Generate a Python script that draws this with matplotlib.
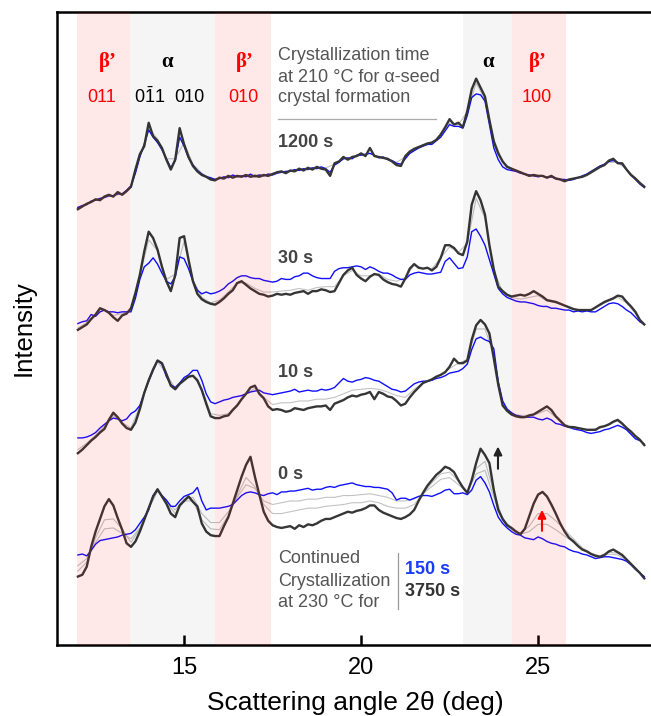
import numpy as np
import matplotlib
matplotlib.use('Agg')
import matplotlib.pyplot as plt

plt.rcParams['font.family'] = ['Liberation Sans', 'DejaVu Sans']
plt.rcParams['mathtext.fontset'] = 'custom'
plt.rcParams['mathtext.rm'] = 'Liberation Sans'

# scattering angle grids (deg)
x_fine = np.linspace(12.0, 28.0, 129)    # step 0.125
x_coarse = np.linspace(12.0, 28.0, 65)   # step 0.25

# vertical offsets of the stacked patterns (a.u.)
offsets = {'1200 s': 484, '30 s': 350, '10 s': 227, '0 s': 74}

# 3750 s at 230 C (dark) and 150 s at 230 C (blue), one row per degree
dark_1200 = [0, 3, 6, 8, 11, 10, 14, 16,
             14, 19, 16, 20, 25, 44, 61, 70,
             96, 81, 76, 68, 55, 44, 55, 90,
             72, 58, 48, 42, 38, 36, 33, 32,
             35, 34, 37, 35, 37, 36, 38, 36,
             37, 36, 38, 37, 39, 41, 42, 40,
             43, 42, 45, 43, 46, 44, 47, 45,
             44, 37, 51, 53, 58, 55, 58, 59,
             62, 59, 68, 59, 58, 57, 56, 53,
             49, 48, 59, 64, 67, 69, 71, 73,
             74, 77, 83, 91, 100, 94, 96, 91,
             109, 133, 145, 135, 125, 99, 75, 62,
             53, 47, 45, 43, 41, 39, 37, 38,
             37, 37, 35, 37, 34, 33, 31, 33,
             34, 35, 36, 38, 41, 44, 47, 49,
             54, 56, 51, 51, 44, 38, 34, 29,
             25]
blue_1200 = [2, 4, 5, 9, 10, 12, 13, 15,
             15, 17, 17, 21, 26, 40, 58, 72,
             88, 80, 74, 66, 56, 46, 54, 80,
             70, 57, 49, 43, 39, 36, 35, 33,
             34, 36, 35, 38, 36, 37, 36, 39,
             36, 38, 37, 39, 38, 40, 41, 42,
             42, 44, 43, 45, 44, 46, 45, 47,
             45, 41, 49, 52, 56, 57, 56, 60,
             60, 61, 62, 60, 57, 58, 55, 54,
             51, 50, 56, 62, 65, 68, 70, 72,
             72, 76, 80, 87, 94, 92, 92, 90,
             104, 124, 128, 127, 120, 94, 68, 55,
             47, 44, 43, 42, 40, 39, 38, 37,
             36, 37, 35, 36, 34, 33, 33, 32,
             33, 35, 37, 39, 42, 45, 48, 50,
             53, 54, 52, 50, 44, 38, 33, 28,
             24]
dark_30 = [0, 3, 6, 12, 17, 24, 22, 19,
           14, 10, 16, 18, 24, 41, 61, 87,
           109, 102, 89, 70, 54, 43, 61, 102,
           104, 78, 54, 40, 34, 31, 29, 28,
           31, 35, 40, 44, 52, 54, 50, 46,
           43, 40, 39, 37, 38, 40, 39, 40,
           39, 41, 42, 43, 40, 43, 43, 45,
           44, 42, 43, 52, 61, 66, 69, 61,
           57, 54, 59, 62, 61, 56, 53, 51,
           50, 48, 57, 68, 73, 69, 68, 69,
           66, 70, 80, 94, 94, 91, 85, 83,
           98, 139, 154, 144, 128, 94, 67, 48,
           43, 39, 37, 38, 39, 38, 40, 43,
           40, 37, 33, 32, 31, 29, 27, 25,
           23, 22, 22, 22, 22, 25, 28, 31,
           33, 35, 38, 37, 31, 26, 20, 11,
           6]
blue_30 = [7, 9, 10, 17, 15, 20, 22, 20,
           20, 19, 20, 20, 20, 35, 56, 70,
           74, 80, 73, 63, 54, 51, 59, 81,
           79, 68, 54, 44, 40, 42, 40, 41,
           43, 46, 51, 54, 58, 60, 60, 58,
           57, 57, 55, 54, 53, 54, 57, 56,
           56, 59, 60, 63, 63, 60, 58, 57,
           57, 57, 65, 68, 69, 69, 70, 71,
           70, 67, 70, 68, 65, 63, 63, 61,
           58, 56, 56, 61, 63, 64, 63, 62,
           62, 63, 64, 76, 80, 74, 68, 69,
           81, 109, 112, 104, 94, 78, 62, 46,
           40, 36, 34, 32, 31, 31, 30, 29,
           27, 26, 26, 24, 24, 23, 22, 22,
           20, 21, 20, 21, 20, 20, 23, 26,
           29, 30, 29, 26, 22, 19, 14, 9,
           6]
dark_10 = [-14, -10, -5, 0, 4, 9, 13, 23,
           31, 26, 19, 14, 12, 20, 35, 53,
           67, 79, 89, 86, 74, 61, 57, 63,
           67, 71, 72, 67, 56, 41, 27, 25,
           25, 27, 28, 34, 39, 46, 52, 59,
           61, 52, 47, 38, 34, 35, 34, 32,
           33, 36, 35, 34, 36, 37, 38, 38,
           39, 34, 41, 43, 45, 48, 50, 49,
           51, 52, 54, 46, 54, 52, 49, 48,
           44, 39, 41, 48, 54, 59, 64, 66,
           68, 71, 73, 76, 82, 91, 86, 86,
           89, 112, 128, 134, 129, 119, 91, 62,
           39, 33, 29, 27, 26, 26, 28, 29,
           32, 35, 38, 34, 27, 22, 17, 15,
           15, 14, 13, 12, 12, 12, 15, 16,
           18, 21, 23, 19, 14, 10, 5, 1,
           -5]
blue_10 = [3, 3, 4, 6, 9, 14, 18, 22,
           25, 24, 22, 24, 30, 33, 39, 53,
           66, 78, 89, 85, 71, 62, 59, 64,
           70, 73, 78, 78, 67, 52, 43, 41,
           43, 45, 46, 48, 49, 50, 52, 54,
           55, 56, 53, 52, 51, 52, 53, 54,
           55, 57, 54, 55, 56, 55, 55, 57,
           56, 57, 59, 64, 69, 66, 65, 67,
           68, 70, 69, 67, 66, 63, 60, 57,
           56, 54, 55, 59, 63, 65, 66, 66,
           67, 69, 70, 72, 75, 76, 77, 80,
           85, 101, 113, 115, 112, 110, 102, 65,
           44, 35, 31, 28, 27, 26, 26, 26,
           24, 23, 25, 23, 19, 18, 16, 15,
           13, 12, 11, 9, 8, 9, 10, 12,
           13, 15, 17, 15, 12, 7, 2, 0,
           -4]
dark_0 = [2, 4, 13, 35, 52, 66, 80, 88,
          81, 67, 54, 39, 35, 41, 52, 65,
          78, 91, 99, 91, 83, 72, 68, 81,
          86, 91, 85, 80, 61, 52, 48, 47,
          47, 58, 68, 83, 98, 113, 126, 135,
          113, 93, 74, 64, 59, 57, 56, 57,
          58, 55, 59, 57, 60, 59, 61, 64,
          66, 66, 68, 70, 72, 74, 73, 75,
          76, 78, 81, 81, 76, 73, 71, 69,
          67, 66, 68, 71, 76, 86, 95, 103,
          109, 115, 119, 124, 122, 118, 109, 101,
          95, 109, 128, 144, 137, 128, 98, 76,
          66, 59, 56, 52, 49, 55, 69, 83,
          93, 96, 91, 82, 72, 61, 52, 45,
          41, 36, 32, 30, 27, 25, 24, 26,
          30, 32, 29, 26, 21, 16, 11, 6,
          0]
blue_0 = [26, 27, 25, 31, 38, 42, 43, 44,
          45, 46, 48, 49, 50, 54, 61, 68,
          76, 92, 98, 92, 87, 80, 80, 86,
          91, 93, 95, 101, 86, 76, 78, 78,
          78, 79, 80, 82, 87, 92, 95, 96,
          95, 93, 92, 94, 95, 93, 96, 96,
          97, 97, 98, 99, 100, 98, 99, 99,
          101, 102, 101, 103, 104, 105, 106, 104,
          103, 102, 102, 101, 101, 100, 99, 95,
          87, 89, 89, 87, 89, 91, 92, 92,
          91, 93, 95, 98, 99, 94, 94, 95,
          93, 98, 109, 113, 106, 96, 81, 68,
          61, 56, 52, 49, 48, 45, 44, 43,
          46, 44, 41, 39, 38, 36, 35, 32,
          30, 29, 27, 26, 24, 22, 23, 24,
          24, 23, 22, 21, 19, 15, 10, 6,
          2]

# intermediate crystallization times (light grey), coarse grid
grey_1200 = [2, 6, 10, 13, 15, 17, 24, 58, 90, 78, 56, 56, 74, 50, 40, 34,
             34, 36, 36, 37, 38, 38, 40, 41, 43, 44, 45, 46, 46, 50, 56, 57,
             60, 62, 58, 55, 52, 58, 65, 70, 73, 82, 96, 94, 108, 140, 122, 78,
             52, 45, 41, 38, 37, 36, 35, 33, 34, 36, 40, 46, 52, 52, 44, 35, 26]
grey_30 = [2, 8, 18, 22, 16, 18, 22, 60, 100, 88, 56, 62, 98, 56, 36, 30,
           33, 42, 52, 52, 46, 42, 42, 43, 44, 46, 44, 47, 48, 48, 60, 66,
           60, 60, 62, 56, 54, 58, 72, 68, 68, 80, 92, 86, 96, 146, 124, 66,
           42, 36, 34, 36, 38, 32, 30, 27, 24, 22, 22, 27, 32, 36, 30, 18, 6]
grey_10 = [-10, -3, 6, 16, 28, 20, 14, 38, 68, 88, 74, 58, 68, 72, 58, 30,
           28, 30, 40, 52, 58, 48, 40, 42, 42, 44, 44, 46, 46, 48, 52, 56,
           57, 58, 57, 54, 50, 48, 57, 64, 68, 73, 80, 86, 90, 124, 124, 95,
           41, 30, 28, 28, 30, 34, 26, 18, 15, 13, 12, 14, 18, 22, 14, 5, -4]
grey_0a = [8, 18, 45, 65, 66, 55, 40, 55, 78, 97, 84, 72, 86, 86, 65, 55,
           54, 70, 92, 112, 102, 82, 72, 72, 74, 76, 78, 78, 80, 81, 82, 84,
           84, 86, 84, 80, 78, 78, 82, 94, 106, 116, 118, 108, 96, 122, 130, 96,
           66, 56, 50, 58, 72, 72, 64, 54, 44, 34, 28, 25, 29, 28, 21, 11, 1]
grey_0b = [14, 22, 40, 55, 56, 50, 44, 56, 77, 97, 86, 76, 88, 90, 72, 62,
           62, 74, 90, 104, 100, 86, 82, 84, 86, 86, 88, 88, 90, 90, 92, 92,
           93, 94, 92, 90, 86, 86, 88, 94, 102, 110, 112, 104, 96, 116, 120, 90,
           64, 54, 49, 52, 60, 60, 54, 47, 40, 32, 27, 24, 27, 26, 20, 11, 2]

groups = [
    ('1200 s', dark_1200, blue_1200, [grey_1200]),
    ('30 s', dark_30, blue_30, [grey_30]),
    ('10 s', dark_10, blue_10, [grey_10]),
    ('0 s', dark_0, blue_0, [grey_0a, grey_0b]),
]

# reflection bands: (start, end, kind)
bands = [(11.98, 13.46, 'beta'), (13.46, 15.86, 'alpha'), (15.86, 17.45, 'beta'),
         (22.88, 24.25, 'alpha'), (24.25, 25.78, 'beta')]

fig = plt.figure(figsize=(6.51, 7.16), dpi=100)
ax = fig.add_axes([57 / 651, 71 / 716, 594 / 651, 633 / 716])

for name, dark, blue, greys in groups:
    off = offsets[name]
    for g in greys:
        ax.plot(x_coarse, off + np.array(g), color='#b4b4b4', lw=0.8, alpha=0.8, zorder=2)
    ax.plot(x_fine, off + np.array(blue), color='#1010ff', lw=1.0, zorder=3)
    ax.plot(x_fine, off + np.array(dark), color='#363636', lw=1.7, zorder=4)

for a, b, kind in bands:
    if kind == 'beta':
        ax.axvspan(a, b, color='red', alpha=0.09, lw=0, zorder=5)
    else:
        ax.axvspan(a, b, color='black', alpha=0.04, lw=0, zorder=5)

ax.set_xlim(11.41, 28.19)
ax.set_ylim(0, 703)
ax.set_xticks([15, 20, 25])
ax.set_yticks([])
ax.tick_params(axis='x', direction='in', length=7, width=1.8, labelsize=17, pad=9)
for s in ['left', 'bottom', 'top']:
    ax.spines[s].set_linewidth(1.8)
ax.spines['right'].set_visible(False)

ax.set_xlabel('Scattering angle 2θ (deg)', fontsize=19, va='center')
ax.xaxis.set_label_coords(0.503, -0.092)
ax.set_ylabel('Intensity', fontsize=18.5, va='center')
ax.yaxis.set_label_coords(-0.057, 0.5)

T = ax.transAxes
serif = ['Liberation Serif', 'DejaVu Serif']
for xx, s, c in [(0.086, 'β’', 'red'), (0.185, 'α', 'black'), (0.3165, 'β’', 'red'),
                 (0.7256, 'α', 'black'), (0.81, 'β’', 'red')]:
    ax.text(xx, 0.921, s, color=c, fontsize=15, fontweight='bold', family=serif,
            ha='center', va='center', transform=T, zorder=6)
for xx, s, c in [(0.0758, '011', 'red'), (0.1566, r'$\mathregular{0\bar{1}1}$', 'black'),
                 (0.2222, '010', 'black'), (0.3131, '010', 'red'), (0.8081, '100', 'red')]:
    ax.text(xx, 0.8657, s, color=c, fontsize=13, ha='center', va='center',
            transform=T, zorder=6)

grey_txt = '#555555'
for yy, s in [(0.932, 'Crystallization time'), (0.897, 'at 210 °C for α-seed'),
              (0.8657, 'crystal formation')]:
    ax.text(0.372, yy, s, color=grey_txt, fontsize=13, ha='left', va='center',
            transform=T, zorder=6)
ax.plot([0.372, 0.638], [0.831, 0.831], color='#aaaaaa', lw=0.9, transform=T, zorder=6)

for name, yy in [('1200 s', 0.7946), ('30 s', 0.6098), ('10 s', 0.4297), ('0 s', 0.2686)]:
    ax.text(0.372, yy, name, color='#444444', fontsize=13, fontweight='bold',
            ha='left', va='center', transform=T, zorder=6)

for yy, s in [(0.1359, 'Continued'), (0.1011, 'Crystallization'), (0.0679, 'at 230 °C for')]:
    ax.text(0.372, yy, s, color=grey_txt, fontsize=13, ha='left', va='center',
            transform=T, zorder=6)
ax.plot([0.574, 0.574], [0.057, 0.145], color='#999999', lw=0.9, transform=T, zorder=6)
ax.text(0.586, 0.1185, '150 s', color='#1a3cff', fontsize=13, fontweight='bold',
        ha='left', va='center', transform=T, zorder=6)
ax.text(0.586, 0.0853, '3750 s', color='#333333', fontsize=13, fontweight='bold',
        ha='left', va='center', transform=T, zorder=6)

ax.annotate('', xy=(0.7424, 0.318), xytext=(0.7424, 0.274), xycoords=T, textcoords=T,
            arrowprops=dict(arrowstyle='-|>', color='#222222', lw=1.5, mutation_scale=12),
            zorder=6)
ax.annotate('', xy=(0.8165, 0.218), xytext=(0.8165, 0.176), xycoords=T, textcoords=T,
            arrowprops=dict(arrowstyle='-|>', color='red', lw=1.5, mutation_scale=12),
            zorder=6)

fig.savefig('out.png', dpi=100)
